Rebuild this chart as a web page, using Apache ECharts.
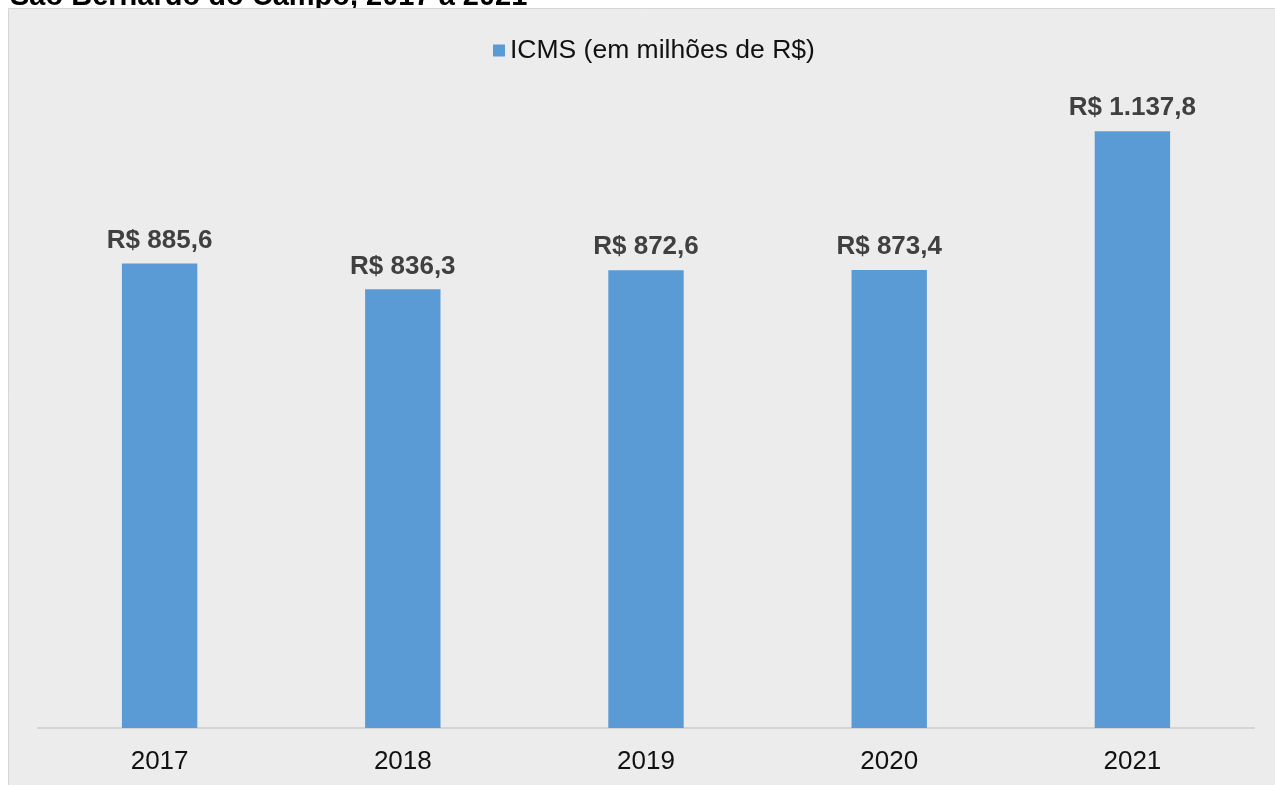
<!DOCTYPE html>
<html>
<head>
<meta charset="utf-8">
<script src="https://cdn.jsdelivr.net/npm/echarts@6/dist/echarts.min.js"></script>
<style>
  html, body { margin: 0; padding: 0; background: #ffffff; }
  #chart { width: 1275px; height: 785px; }
</style>
</head>
<body>
<div id="chart"></div>
<script>
// ICMS arrecadado em São Bernardo do Campo (milhões de R$)
const titleText = 'São Bernardo do Campo, 2017 a 2021';
const seriesName = 'ICMS (em milhões de R$)';
const years = ['2017', '2018', '2019', '2020', '2021'];
const icms = [885.6, 836.3, 872.6, 873.4, 1137.8];

const FONT = '"Liberation Sans", Arial, Helvetica, sans-serif';

function formatBRL(v) {
  const parts = v.toFixed(1).split('.');
  const intPart = parts[0].replace(/\B(?=(\d{3})+(?!\d))/g, '.');
  return 'R$ ' + intPart + ',' + parts[1];
}

const chart = echarts.init(document.getElementById('chart'), null, { renderer: 'canvas' });

chart.setOption({
  backgroundColor: '#ffffff',
  animation: false,
  graphic: [
    {
      type: 'text',
      left: 10,
      top: -18,
      z: 1,
      style: {
        text: titleText,
        fill: '#000000',
        font: 'bold 29px ' + FONT
      }
    },
    {
      type: 'rect',
      z: 2,
      shape: { x: 8.5, y: 8.5, width: 1300, height: 800 },
      style: { fill: '#ececec', stroke: '#d6d6d6', lineWidth: 1 }
    }
  ],
  legend: {
    top: 32,
    left: 488,
    itemWidth: 12,
    itemHeight: 12,
    itemGap: 6,
    icon: 'rect',
    textStyle: { fontFamily: FONT, fontSize: 26.5, color: '#111111' },
    data: [seriesName],
    z: 10
  },
  grid: {
    left: 38,
    right: 21,
    top: 98.6,
    bottom: 57,
    containLabel: false,
    z: 10
  },
  xAxis: {
    type: 'category',
    data: years,
    axisLine: { show: true, lineStyle: { color: '#d4d4d4', width: 2 } },
    axisTick: { show: false },
    axisLabel: {
      fontFamily: FONT,
      fontSize: 26,
      color: '#111111',
      margin: 21
    },
    z: 10
  },
  yAxis: {
    type: 'value',
    min: 0,
    max: 1200,
    show: false,
    splitLine: { show: false }
  },
  series: [
    {
      name: seriesName,
      type: 'bar',
      data: icms,
      barWidth: '31%',
      itemStyle: { color: '#5b9bd5' },
      z: 10,
      label: {
        show: true,
        position: 'top',
        distance: 10,
        formatter: p => formatBRL(p.value),
        fontFamily: FONT,
        fontSize: 26,
        fontWeight: 'bold',
        color: '#404040'
      }
    }
  ]
});
</script>
</body>
</html>
